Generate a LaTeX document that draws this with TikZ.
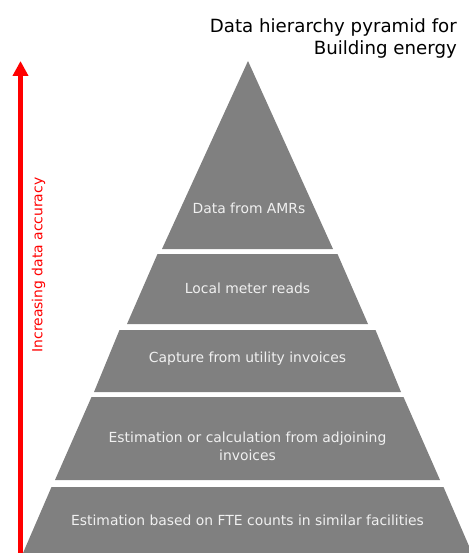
\documentclass[tikz,border=0pt]{standalone}
\usepackage{fontspec}
\setmainfont{DejaVu Sans}
\usetikzlibrary{arrows.meta}
\definecolor{layergray}{RGB}{128,128,128}
\definecolor{layertext}{RGB}{240,240,240}
\definecolor{arrowred}{RGB}{255,0,0}
\tikzset{
  layer/.style={fill=layergray, draw=none},
  layerlabel/.style={text=layertext, font=\fontsize{13.9}{18}\selectfont, align=center, inner sep=0pt},
}
\begin{document}
\begin{tikzpicture}[x=1pt,y=-1pt]
\useasboundingbox (0,0) rectangle (468,553);
% layers
\fill[layer] (248,61) -- (333,249) -- (162,249) -- cycle;
\fill[layer] (157.5,254) -- (337.5,254) -- (368,324) -- (127,324) -- cycle;
\fill[layer] (119.5,330) -- (375.5,330) -- (401,392) -- (94,392) -- cycle;
\fill[layer] (91.5,397) -- (403.5,397) -- (440,480) -- (55,480) -- cycle;
\fill[layer] (51.5,487) -- (443.5,487) -- (472,553) -- (23,553) -- cycle;
% labels
\node[layerlabel] (l1) at (249,208) {Data from AMRs};
\node[layerlabel] (l2) at (247.5,288) {Local meter reads};
\node[layerlabel] (l3) at (247.5,359) {Capture from utility invoices};
\node[layerlabel] (l4) at (247.5,446) {Estimation or calculation from adjoining\\invoices};
\node[layerlabel] (l5) at (247.5,520) {Estimation based on FTE counts in similar facilities};
% title
\node[anchor=east, align=right, inner sep=0pt, font=\fontsize{18.2}{22}\selectfont] (title) at (457,38) {Data hierarchy pyramid for\\Building energy};
% arrow
\coordinate (abot) at (20.5,553);
\coordinate (atop) at (20.5,61);
\draw[arrowred, line width=4.5pt, -{Triangle[width=15pt,length=15pt]}] (abot) -- (atop);
\node[rotate=90, text=arrowred, inner sep=0pt, font=\fontsize{13.9}{16}\selectfont] (alabel) at (38.5,265) {Increasing data accuracy};
\end{tikzpicture}
\end{document}
